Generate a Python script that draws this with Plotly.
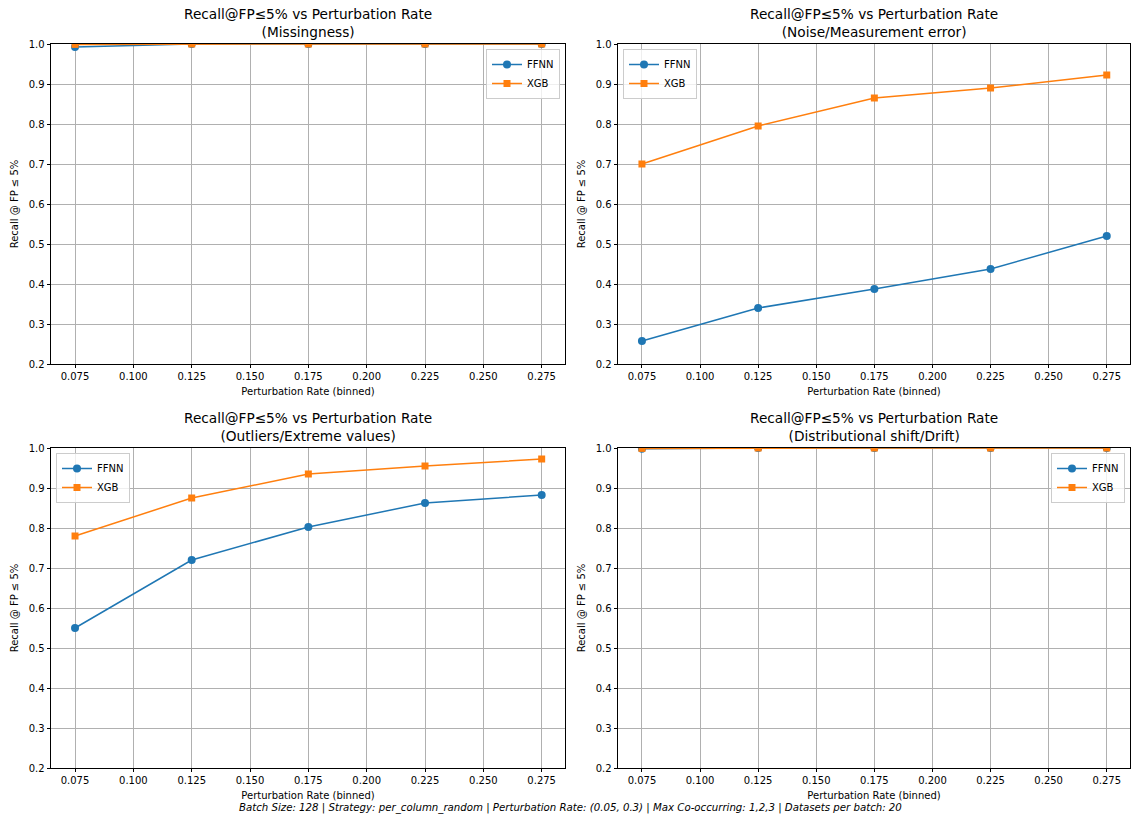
import plotly.graph_objects as go

rates = [0.075, 0.125, 0.175, 0.225, 0.275]
x_ticks = [0.075, 0.100, 0.125, 0.150, 0.175, 0.200, 0.225, 0.250, 0.275]
y_ticks = [0.2, 0.3, 0.4, 0.5, 0.6, 0.7, 0.8, 0.9, 1.0]

panel_names = ["Missingness", "Noise/Measurement error", "Outliers/Extreme values", "Distributional shift/Drift"]
ffnn = {
    "Missingness": [0.9925, 1.0, 1.0, 1.0, 1.0],
    "Noise/Measurement error": [0.2575, 0.34, 0.3875, 0.4375, 0.52],
    "Outliers/Extreme values": [0.55, 0.72, 0.8025, 0.8625, 0.8825],
    "Distributional shift/Drift": [0.998, 1.0, 1.0, 1.0, 1.0],
}
xgb = {
    "Missingness": [0.999, 1.0, 1.0, 1.0, 1.0],
    "Noise/Measurement error": [0.70, 0.795, 0.865, 0.89, 0.9225],
    "Outliers/Extreme values": [0.78, 0.875, 0.935, 0.955, 0.9725],
    "Distributional shift/Drift": [0.999, 1.0, 1.0, 1.0, 1.0],
}
footer = ("Batch Size: 128 | Strategy: per_column_random | Perturbation Rate: (0.05, 0.3) | "
          "Max Co-occurring: 1,2,3 | Datasets per batch: 20")

W, H = 1131, 817
BLUE, ORANGE = "#1f77b4", "#ff7f0e"
FONT = "DejaVu Sans"

# pixel boxes of each axes: (left, right, top, bottom)
boxes = [(51, 565, 44, 364), (618, 1130, 44, 364), (51, 565, 448, 768), (618, 1130, 448, 768)]
legend_pos = ["ur", "ul", "ul", "ur"]

fig = go.Figure()
layout = dict(
    width=W, height=H, margin=dict(l=0, r=0, t=0, b=0, autoexpand=False),
    paper_bgcolor="white", plot_bgcolor="white",
    font=dict(family=FONT, size=10, color="black"),
    annotations=[],
)

for i, (name, (l, r, t, b)) in enumerate(zip(panel_names, boxes)):
    k = "" if i == 0 else str(i + 1)
    xa, ya = "x" + k, "y" + k
    leg = "legend" + k
    fig.add_trace(go.Scatter(
        x=rates, y=ffnn[name], name="FFNN", mode="lines+markers",
        line=dict(color=BLUE, width=1.5), marker=dict(symbol="circle", size=8, color=BLUE),
        xaxis=xa, yaxis=ya, legend=leg))
    fig.add_trace(go.Scatter(
        x=rates, y=xgb[name], name="XGB", mode="lines+markers",
        line=dict(color=ORANGE, width=1.5), marker=dict(symbol="square", size=7, color=ORANGE),
        xaxis=xa, yaxis=ya, legend=leg))

    axcommon = dict(showline=True, linecolor="black", linewidth=0.8, mirror=True,
                    ticks="outside", ticklen=3.5, tickwidth=0.8, tickcolor="black",
                    showgrid=True, gridcolor="#b0b0b0", gridwidth=0.8, zeroline=False,
                    automargin=False,
                    tickfont=dict(family=FONT, size=10, color="black"))
    layout["xaxis" + k] = dict(
        axcommon, domain=[l / W, r / W], range=[0.0647, 0.285], anchor=ya,
        tickvals=x_ticks, ticktext=[f"{v:.3f}" for v in x_ticks],
        title=dict(text="Perturbation Rate (binned)", font=dict(size=10), standoff=6))
    layout["yaxis" + k] = dict(
        axcommon, domain=[1 - b / H, 1 - t / H], range=[0.2, 1.0], anchor=xa,
        tickvals=y_ticks, ticktext=[f"{v:.1f}" for v in y_ticks],
        title=dict(text="Recall @ FP ≤ 5%", font=dict(size=10), standoff=8))

    cx = (l + r) / 2 / W
    layout["annotations"].append(dict(
        text=f"Recall@FP≤5% vs Perturbation Rate<br>({name})", x=cx, y=1 - (t - 2) / H,
        xref="paper", yref="paper", xanchor="center", yanchor="bottom", showarrow=False,
        font=dict(family=FONT, size=13.7, color="black"), align="center"))

    if legend_pos[i] == "ur":
        lx, xanc = (r - 5) / W, "right"
    else:
        lx, xanc = (l + 5) / W, "left"
    layout[leg] = dict(
        x=lx, y=1 - (t + 5) / H, xanchor=xanc, yanchor="top", xref="paper", yref="paper",
        bgcolor="rgba(255,255,255,0.8)", bordercolor="#cccccc", borderwidth=1,
        font=dict(family=FONT, size=10, color="black"), itemwidth=30, tracegroupgap=0)

layout["annotations"].append(dict(
    text=f"<i>{footer}</i>", x=570 / W, y=1 - 808 / H, xref="paper", yref="paper",
    xanchor="center", yanchor="middle", showarrow=False,
    font=dict(family=FONT, size=10.2, color="black")))

fig.update_layout(**layout)
fig.write_html("out.html")
